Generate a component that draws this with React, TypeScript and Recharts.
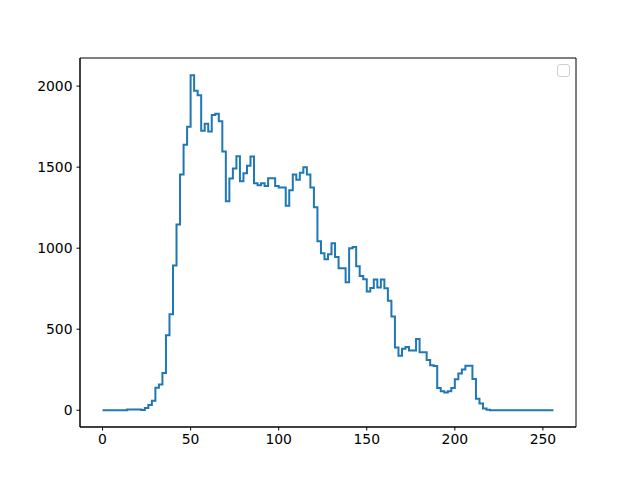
import { Line, LineChart, ReferenceArea, XAxis, YAxis } from "recharts";

// histogram counts, 128 bins of width 2 over 0..256
const counts = [
    0, 0, 0, 0, 0, 0, 0, 5, 5, 5,
    5, 1, 14, 33, 58, 138, 158, 230, 463, 592,
    893, 1146, 1455, 1638, 1749, 2067, 1971, 1943, 1725, 1768,
    1720, 1822, 1830, 1783, 1597, 1289, 1430, 1492, 1568, 1413,
    1463, 1509, 1565, 1400, 1389, 1400, 1384, 1431, 1431, 1384,
    1375, 1375, 1262, 1357, 1455, 1422, 1466, 1500, 1455, 1375,
    1252, 1043, 969, 932, 963, 1031, 945, 876, 876, 790,
    1000, 1008, 889, 828, 809, 732, 755, 807, 758, 807,
    753, 676, 579, 387, 336, 380, 390, 368, 368, 439,
    358, 358, 310, 277, 273, 137, 117, 110, 117, 137,
    191, 226, 252, 275, 275, 193, 71, 42, 11, 3,
    0, 0, 0, 0, 0, 0, 0, 0, 0, 0,
    0, 0, 0, 0, 0, 0, 0, 0,
];
const binWidth = 2;
const xTicks = [0, 50, 100, 150, 200, 250];
const yTicks = [0, 500, 1000, 1500, 2000];

const xDomain: [number, number] = [-12.8, 268.8];
const yDomain: [number, number] = [-103.5, 2173.5];

// step points at the left edge of each bin, plus the closing right edge
const data = counts.map((c, i) => ({ x: i * binWidth, count: c }));
data.push({ x: counts.length * binWidth, count: counts[counts.length - 1] });

const tickStyle = { fill: "#000", fontSize: 13.9, fontFamily: "DejaVu Sans" };

export default function App() {
    return (
        <div style={{ position: "fixed", left: 0, top: 0, width: 640, height: 480, background: "#fff" }}>
            <LineChart width={640} height={480} data={data} margin={{ top: 58, right: 64, bottom: 23, left: 20 }}>
                <XAxis
                    type="number"
                    dataKey="x"
                    domain={xDomain}
                    ticks={xTicks}
                    allowDataOverflow
                    height={30}
                    stroke="#000"
                    tickSize={3.5}
                    tickMargin={4}
                    tick={tickStyle}
                />
                <YAxis
                    type="number"
                    domain={yDomain}
                    ticks={yTicks}
                    allowDataOverflow
                    width={60}
                    stroke="#000"
                    tickSize={3.5}
                    tickMargin={4}
                    tick={tickStyle}
                />
                <ReferenceArea
                    x1={xDomain[0]}
                    x2={xDomain[1]}
                    y1={yDomain[0]}
                    y2={yDomain[1]}
                    fill="none"
                    stroke="#000"
                    strokeWidth={1}
                    ifOverflow="visible"
                />
                <Line
                    type="stepAfter"
                    dataKey="count"
                    stroke="#1f77b4"
                    strokeWidth={2}
                    dot={false}
                    isAnimationActive={false}
                />
            </LineChart>
            <div
                style={{
                    position: "absolute",
                    left: 557,
                    top: 64,
                    width: 11,
                    height: 11,
                    border: "1px solid #d0d0d0",
                    borderRadius: 3,
                    background: "#fff",
                }}
            />
        </div>
    );
}
